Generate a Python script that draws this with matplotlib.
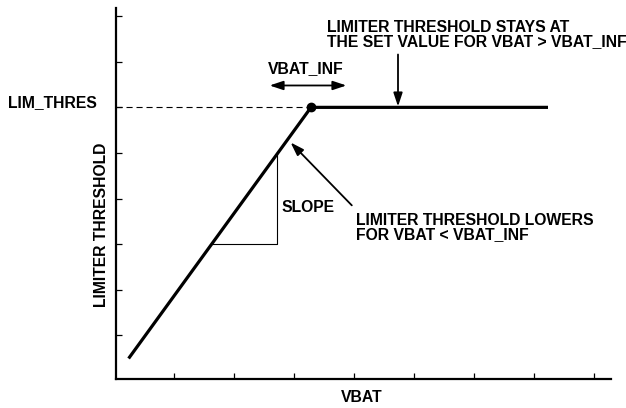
import numpy as np
import matplotlib
matplotlib.use("Agg")
import matplotlib.pyplot as plt
from matplotlib.patches import FancyArrowPatch

plt.rcParams['font.family'] = ['Liberation Sans', 'DejaVu Sans']
plt.rcParams['font.weight'] = 'bold'

# Limiter threshold vs. battery voltage (arbitrary units)
vbat = [0.24, 3.28, 7.23]
threshold = [0.49, 6.0, 6.0]
lim_thres = 6.0
vbat_inf = 3.28

# slope-marker triangle
slope_x = 2.71
slope_y = 3.0

x_ticks = [1, 2, 3, 4, 5, 6, 7, 8]
y_ticks = [1, 2, 3, 4, 5, 6, 7, 8]

fig = plt.figure(figsize=(6.26, 4.08), dpi=100)
ax = fig.add_axes([116 / 626, 29 / 408, 495 / 626, 371 / 408])
ax.set_xlim(0.03, 8.28)
ax.set_ylim(0.04, 8.18)

for side in ('top', 'right'):
    ax.spines[side].set_visible(False)
for side in ('left', 'bottom'):
    ax.spines[side].set_linewidth(1.6)

ax.set_xticks(x_ticks)
ax.set_yticks(y_ticks)
ax.tick_params(direction='in', length=4.5, width=0.9, labelleft=False, labelbottom=False)

# transfer curve
ax.plot(vbat, threshold, color='black', lw=2.3, solid_capstyle='butt')
ax.plot([vbat_inf], [lim_thres], 'o', color='black', ms=6)
ax.plot([ax.get_xlim()[0], vbat_inf], [lim_thres, lim_thres], color='black',
        lw=0.8, dashes=(5.5, 3.5))

# slope triangle
x_low = np.interp(slope_y, threshold[:2], vbat[:2])
y_high = np.interp(slope_x, vbat[:2], threshold[:2])
ax.plot([x_low, slope_x, slope_x], [slope_y, slope_y, y_high], color='black', lw=0.8)


def arrow(p0, p1, style='-|>'):
    ax.add_patch(FancyArrowPatch(p0, p1, arrowstyle=style + ',head_length=0.9,head_width=0.3',
                                 mutation_scale=9, color='black', lw=1.3,
                                 shrinkA=0, shrinkB=0))


arrow((4.73, 7.16), (4.73, 6.02))
arrow((3.96, 3.85), (2.94, 5.23))
arrow((2.59, 6.48), (3.87, 6.48), style='<|-|>')

fs = 11.3
ax.text(-0.29, 6.11, 'LIM_THRES', ha='right', va='center', fontsize=fs)
ax.text(-0.21, 3.43, 'LIMITER THRESHOLD', rotation=90, ha='center', va='center', fontsize=fs)
ax.text(4.12, -0.36, 'VBAT', ha='center', va='center', fontsize=fs)
ax.text(3.2, 6.85, 'VBAT_INF', ha='center', va='center', fontsize=fs)
ax.text(3.54, 7.60, 'LIMITER THRESHOLD STAYS AT\nTHE SET VALUE FOR VBAT > VBAT_INF',
        ha='left', va='center', fontsize=fs, linespacing=0.95)
ax.text(4.03, 3.36, 'LIMITER THRESHOLD LOWERS\nFOR VBAT < VBAT_INF',
        ha='left', va='center', fontsize=fs, linespacing=0.95)
ax.text(2.79, 3.80, 'SLOPE', ha='left', va='center', fontsize=fs)

fig.savefig('out.png', dpi=100)
